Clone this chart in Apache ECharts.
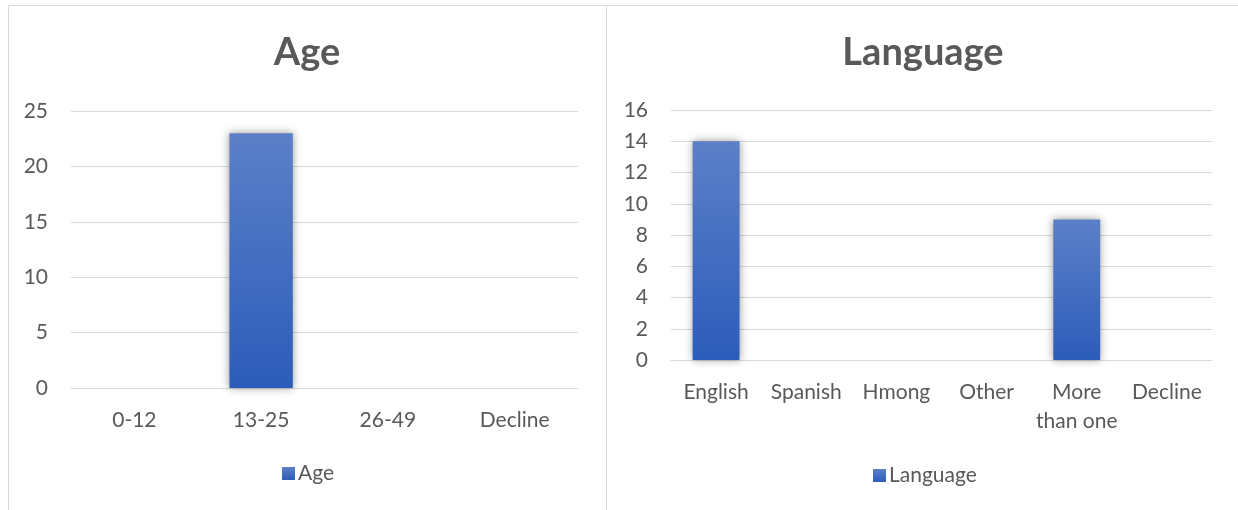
<!DOCTYPE html>
<html>
<head>
<meta charset="utf-8">
<script src="https://cdn.jsdelivr.net/npm/echarts@6/dist/echarts.min.js"></script>
<style>
html,body{margin:0;padding:0;background:#fff;}
#c{width:1238px;height:510px;}
</style>
</head>
<body>
<div id="c"></div>
<script>
const ageCategories = ['0-12', '13-25', '26-49', 'Decline'];
const ageValues = [0, 23, 0, 0];
const langCategories = ['English', 'Spanish', 'Hmong', 'Other', 'More than one', 'Decline'];
const langValues = [14, 0, 0, 0, 9, 0];

const FONT = 'Lato, "Open Sans", sans-serif';
const TXT = '#595959';
const GRID = '#d9d9d9';

const barStyle = {
  color: new echarts.graphic.LinearGradient(0, 0, 0, 1, [
    {offset: 0, color: '#5b80c8'},
    {offset: 1, color: '#2c5cba'}
  ]),
  shadowColor: 'rgba(0,0,0,0.4)',
  shadowBlur: 8
};

const chart = echarts.init(document.getElementById('c'), null, {renderer: 'canvas'});
chart.setOption({
  animation: false,
  textStyle: {fontFamily: FONT},
  graphic: [
    {type: 'rect', shape: {x: 8.5, y: 5.5, width: 598, height: 520}, style: {fill: 'none', stroke: GRID, lineWidth: 1}, silent: true},
    {type: 'rect', shape: {x: 606.5, y: 5.5, width: 640, height: 520}, style: {fill: 'none', stroke: GRID, lineWidth: 1}, silent: true}
  ],
  title: [
    {text: 'Age', left: 302, top: 29, textAlign: 'center',
     textStyle: {fontFamily: FONT, fontSize: 38, fontWeight: 'bold', color: TXT}},
    {text: 'Language', left: 918, top: 29, textAlign: 'center',
     textStyle: {fontFamily: FONT, fontSize: 38, fontWeight: 'bold', color: TXT}}
  ],
  legend: [
    {data: ['Age'], left: 277, top: 458, icon: 'rect', itemWidth: 13, itemHeight: 13, itemGap: 4,
     textStyle: {fontFamily: FONT, fontSize: 21, color: TXT, padding: [0,0,0,-2]}},
    {data: ['Language'], left: 868, top: 460, icon: 'rect', itemWidth: 13, itemHeight: 13, itemGap: 4,
     textStyle: {fontFamily: FONT, fontSize: 21, color: TXT, padding: [0,0,0,-2]}}
  ],
  grid: [
    {left: 71, right: 660, top: 111, bottom: 122},
    {left: 671, right: 26, top: 110, bottom: 150}
  ],
  xAxis: [
    {type: 'category', gridIndex: 0, data: ageCategories,
     axisLine: {lineStyle: {color: GRID, width: 1}}, axisTick: {show: false},
     axisLabel: {fontFamily: FONT, fontSize: 21, color: TXT, margin: 18, interval: 0, lineHeight: 29}},
    {type: 'category', gridIndex: 1, data: langCategories,
     axisLine: {lineStyle: {color: GRID, width: 1}}, axisTick: {show: false},
     axisLabel: {fontFamily: FONT, fontSize: 21, color: TXT, margin: 18, interval: 0, lineHeight: 29,
       formatter: v => v === 'More than one' ? 'More\nthan one' : v}}
  ],
  yAxis: [
    {type: 'value', gridIndex: 0, min: 0, max: 25, interval: 5,
     axisLine: {show: false}, axisTick: {show: false},
     splitLine: {lineStyle: {color: GRID, width: 1}},
     axisLabel: {fontFamily: FONT, fontSize: 21, color: TXT, margin: 23}},
    {type: 'value', gridIndex: 1, min: 0, max: 16, interval: 2,
     axisLine: {show: false}, axisTick: {show: false},
     splitLine: {lineStyle: {color: GRID, width: 1}},
     axisLabel: {fontFamily: FONT, fontSize: 21, color: TXT, margin: 23}}
  ],
  series: [
    {name: 'Age', type: 'bar', xAxisIndex: 0, yAxisIndex: 0, data: ageValues,
     barWidth: '50%', itemStyle: barStyle},
    {name: 'Language', type: 'bar', xAxisIndex: 1, yAxisIndex: 1, data: langValues,
     barWidth: '52%', itemStyle: barStyle}
  ]
});
</script>
</body>
</html>
